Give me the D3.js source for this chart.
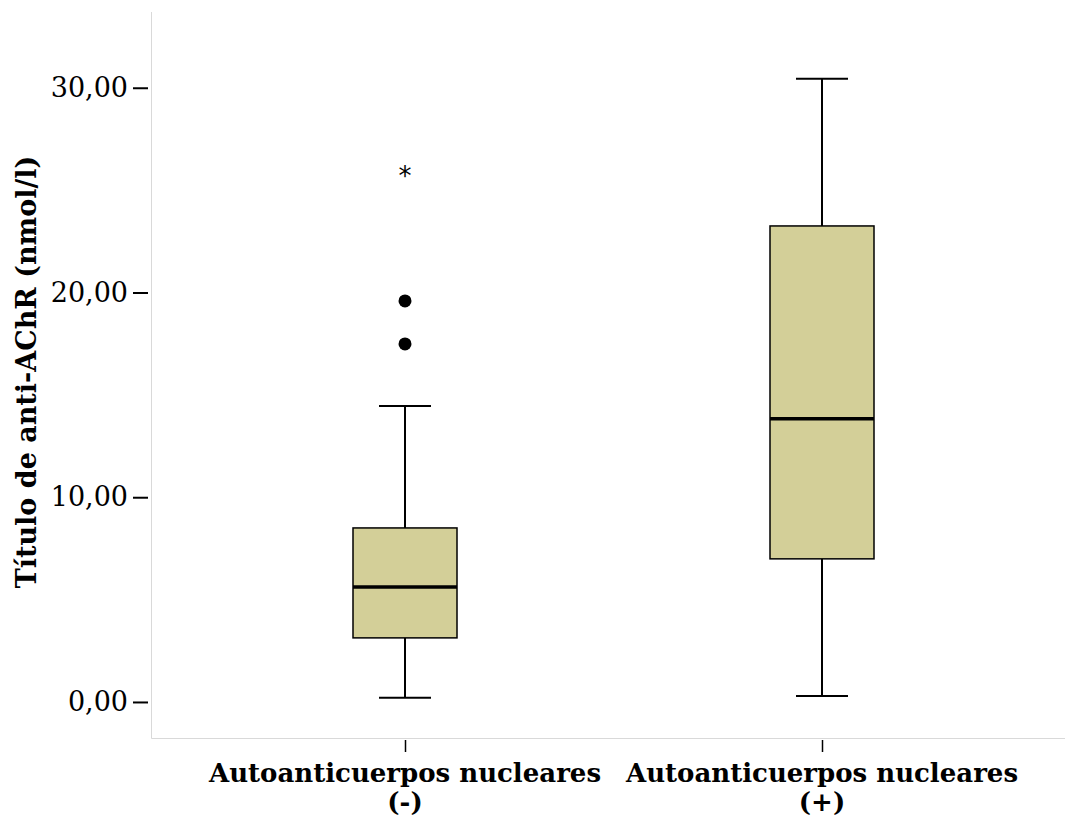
<!DOCTYPE html>
<html>
<head>
<meta charset="utf-8">
<script src="https://cdn.jsdelivr.net/npm/d3@7"></script>
<style>
  body { margin: 0; background: #fff; }
  svg { display: block; }
</style>
</head>
<body>
<div id="chart"></div>
<script>
// SPSS-style boxplot: anti-AChR titre by nuclear autoantibody status
const categories = ['Autoanticuerpos nucleares (-)', 'Autoanticuerpos nucleares (+)'];
const whiskerLow = [0.2, 0.29];
const q1 = [3.13, 6.99];
const median = [5.62, 13.83];
const q3 = [8.5, 23.25];
const whiskerHigh = [14.46, 30.44];
const outliers = [[17.49, 19.59], []];   // circles
const extremes = [[25.9], []];           // asterisks
const yTicks = [0, 10, 20, 30];

const W = 1067, H = 816;
const plot = { left: 151, right: 1065, top: 12, bottom: 738 };

const svg = d3.select('#chart').append('svg')
  .attr('width', W).attr('height', H);

const y = d3.scaleLinear().domain([-1.76, 33.7]).range([plot.bottom, plot.top]);
const x = d3.scalePoint().domain(categories).range([405, 822]);

// Frame (left + bottom only, light grey)
svg.append('path')
  .attr('d', `M${plot.left + 0.5},${plot.top}V${plot.bottom + 0.5}H${plot.right}`)
  .attr('fill', 'none').attr('stroke', '#d9d9d9').attr('stroke-width', 1);

// Y axis
const yAxis = svg.append('g')
  .attr('transform', `translate(${plot.left - 3},0)`)
  .call(d3.axisLeft(y).tickValues(yTicks).tickSize(15).tickPadding(5)
    .tickFormat(d => d3.format('.2f')(d).replace('.', ',')));
yAxis.select('.domain').remove();
yAxis.selectAll('line').attr('stroke', '#000').attr('stroke-width', 2);
yAxis.selectAll('text')
  .attr('font-family', '"DejaVu Serif", serif').attr('font-size', 27).attr('fill', '#000');

// X axis
const xAxis = svg.append('g')
  .attr('transform', `translate(0,${plot.bottom + 2})`)
  .call(d3.axisBottom(x).tickSize(12).tickFormat(''));
xAxis.select('.domain').remove();
xAxis.selectAll('line').attr('stroke', '#000').attr('stroke-width', 1.5);

// Category labels (two lines)
const lab = svg.append('g').selectAll('text').data(categories).join('text')
  .attr('x', d => x(d)).attr('y', 782)
  .attr('text-anchor', 'middle')
  .attr('font-family', '"DejaVu Serif", serif')
  .attr('font-weight', 'bold').attr('font-size', 26).attr('fill', '#000');
lab.append('tspan').attr('x', d => x(d)).text(d => d.replace(/ \(.\)$/, ''));
lab.append('tspan').attr('x', d => x(d)).attr('dy', 29).text(d => d.match(/\(.\)$/)[0]);

// Y title
svg.append('text')
  .attr('transform', 'translate(36,372) rotate(-90)')
  .attr('text-anchor', 'middle')
  .attr('font-family', '"DejaVu Serif", serif')
  .attr('font-weight', 'bold').attr('font-size', 27).attr('fill', '#000')
  .text('Título de anti-AChR (nmol/l)');

const boxW = 104, capW = 52;
const g = svg.append('g');
categories.forEach((c, i) => {
  const cx = x(c);
  // whiskers
  g.append('line').attr('x1', cx).attr('x2', cx).attr('y1', y(whiskerLow[i])).attr('y2', y(q1[i]))
    .attr('stroke', '#000').attr('stroke-width', 2);
  g.append('line').attr('x1', cx).attr('x2', cx).attr('y1', y(q3[i])).attr('y2', y(whiskerHigh[i]))
    .attr('stroke', '#000').attr('stroke-width', 2);
  [whiskerLow[i], whiskerHigh[i]].forEach(v => {
    g.append('line').attr('x1', cx - capW / 2).attr('x2', cx + capW / 2).attr('y1', y(v)).attr('y2', y(v))
      .attr('stroke', '#000').attr('stroke-width', 2);
  });
  // box
  g.append('rect')
    .attr('x', cx - boxW / 2).attr('y', y(q3[i]))
    .attr('width', boxW).attr('height', y(q1[i]) - y(q3[i]))
    .attr('fill', '#d3cf98').attr('stroke', '#000').attr('stroke-width', 1.5);
  // median
  g.append('line').attr('x1', cx - boxW / 2).attr('x2', cx + boxW / 2)
    .attr('y1', y(median[i])).attr('y2', y(median[i]))
    .attr('stroke', '#000').attr('stroke-width', 3.5);
  // outliers
  g.selectAll(null).data(outliers[i]).join('circle')
    .attr('cx', cx).attr('cy', d => y(d)).attr('r', 6.5).attr('fill', '#000');
  g.selectAll(null).data(extremes[i]).join('text')
    .attr('x', cx).attr('y', d => y(d) + 13)
    .attr('text-anchor', 'middle')
    .attr('font-family', '"DejaVu Sans", sans-serif').attr('font-size', 26).attr('fill', '#000')
    .text('*');
});
</script>
</body>
</html>
